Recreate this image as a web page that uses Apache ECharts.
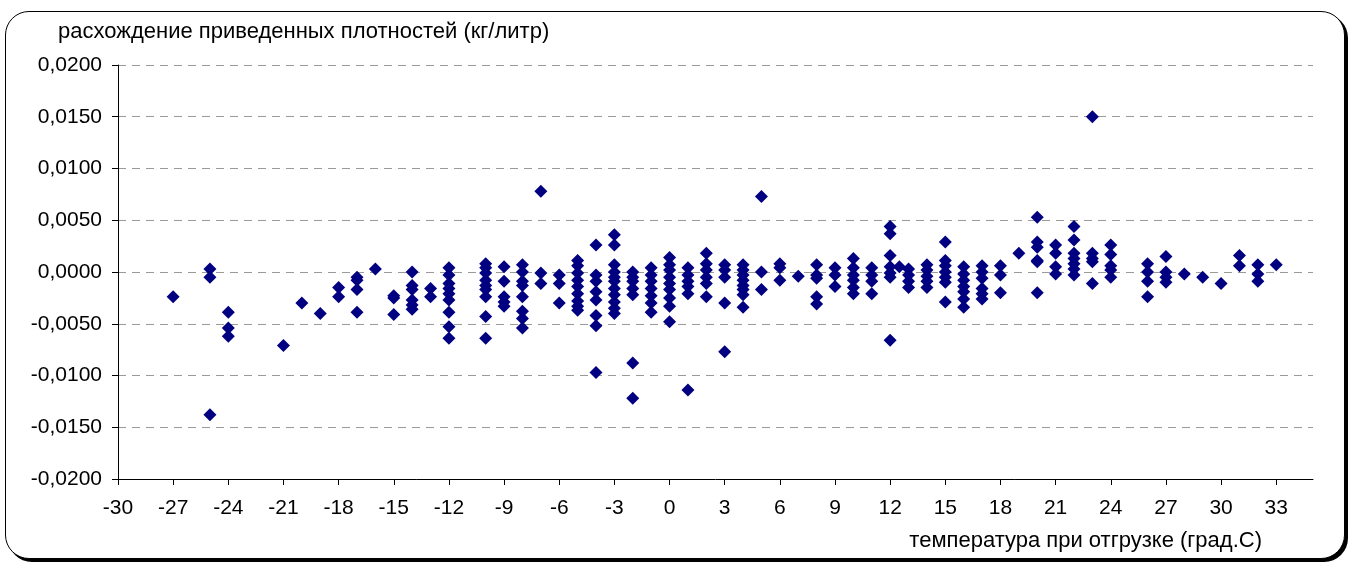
<!DOCTYPE html>
<html>
<head>
<meta charset="utf-8">
<script src="https://cdn.jsdelivr.net/npm/echarts@6/dist/echarts.min.js"></script>
<style>
  html, body { margin: 0; padding: 0; background: #ffffff; }
  #frame {
    position: absolute; left: 5px; top: 11px; width: 1338px; height: 546px;
    border: 1px solid #000; border-radius: 24px;
    box-shadow: 3px 3px 0 #000; background: #fff;
  }
  #chart { position: absolute; left: 0; top: 0; width: 1351px; height: 563px; }
</style>
</head>
<body>
<div id="frame"></div>
<div id="chart"></div>
<script>
// Temperature at shipment (°C) and discrepancy of reduced densities (kg/l), paired by index
const temps = [
  -27,
  -25, -25, -25,
  -24, -24, -24,
  -21, -20, -19,
  -18, -18,
  -17, -17, -17, -17,
  -16,
  -15, -15, -15,
  -14, -14, -14, -14, -14, -14,
  -13, -13,
  -12, -12, -12, -12, -12, -12, -12, -12, -12,
  -10, -10, -10, -10, -10, -10, -10, -10, -10,
  -9, -9, -9, -9, -9,
  -8, -8, -8, -8, -8, -8, -8, -8,
  -7, -7, -7,
  -6, -6, -6,
  -5, -5, -5, -5, -5, -5, -5, -5, -5,
  -4, -4, -4, -4, -4, -4, -4, -4,
  -3, -3, -3, -3, -3, -3, -3, -3, -3, -3, -3,
  -2, -2, -2, -2, -2, -2, -2,
  -1, -1, -1, -1, -1, -1, -1,
  0, 0, 0, 0, 0, 0, 0, 0, 0,
  1, 1, 1, 1, 1, 1,
  2, 2, 2, 2, 2, 2,
  3, 3, 3, 3, 3,
  4, 4, 4, 4, 4, 4, 4, 4,
  5, 5, 5,
  6, 6, 6,
  7,
  8, 8, 8, 8, 8,
  9, 9, 9,
  10, 10, 10, 10, 10, 10,
  11, 11, 11, 11,
  12, 12, 12, 12, 12, 12, 12,
  12.5,
  13, 13, 13, 13,
  14, 14, 14, 14, 14,
  15, 15, 15, 15, 15, 15, 15,
  16, 16, 16, 16, 16, 16, 16,
  17, 17, 17, 17, 17, 17,
  18, 18, 18,
  19,
  20, 20, 20, 20, 20, 20,
  21, 21, 21, 21,
  22, 22, 22, 22, 22, 22, 22,
  23, 23, 23, 23, 23,
  24, 24, 24, 24, 24,
  26, 26, 26, 26,
  27, 27, 27, 27,
  28, 29, 30,
  31, 31,
  32, 32, 32,
  33
];
const diffs = [
  -0.0024,
  0.0003, -0.0005, -0.0138,
  -0.0039, -0.0054, -0.0062,
  -0.0071, -0.0030, -0.0040,
  -0.0015, -0.0024,
  -0.0005, -0.0008, -0.0017, -0.0039,
  0.0003,
  -0.0023, -0.0025, -0.0041,
  0.0000, -0.0013, -0.0017, -0.0027, -0.0032, -0.0036,
  -0.0016, -0.0024,
  0.0004, -0.0003, -0.0011, -0.0016, -0.0021, -0.0027, -0.0039, -0.0053, -0.0064,
  0.0008, 0.0004, -0.0001, -0.0008, -0.0013, -0.0017, -0.0024, -0.0043, -0.0064,
  0.0005, -0.0009, -0.0024, -0.0029, -0.0033,
  0.0007, 0.0000, -0.0009, -0.0013, -0.0024, -0.0038, -0.0045, -0.0054,
  0.0078, -0.0001, -0.0011,
  -0.0003, -0.0011, -0.0030,
  0.0011, 0.0006, -0.0001, -0.0008, -0.0014, -0.0021, -0.0028, -0.0033, -0.0037,
  0.0026, -0.0003, -0.0009, -0.0019, -0.0027, -0.0042, -0.0052, -0.0097,
  0.0036, 0.0026, 0.0007, 0.0000, -0.0005, -0.0009, -0.0016, -0.0022, -0.0029, -0.0035, -0.0040,
  0.0000, -0.0005, -0.0009, -0.0016, -0.0022, -0.0088, -0.0122,
  0.0004, -0.0003, -0.0009, -0.0016, -0.0023, -0.0030, -0.0039,
  0.0014, 0.0007, 0.0002, -0.0005, -0.0011, -0.0017, -0.0025, -0.0033, -0.0048,
  0.0004, -0.0003, -0.0009, -0.0014, -0.0021, -0.0114,
  0.0018, 0.0008, 0.0002, -0.0005, -0.0011, -0.0024,
  0.0007, 0.0002, -0.0005, -0.0030, -0.0077,
  0.0007, 0.0002, -0.0003, -0.0008, -0.0013, -0.0017, -0.0022, -0.0034,
  0.0073, 0.0000, -0.0017,
  0.0008, 0.0004, -0.0008,
  -0.0004,
  0.0007, -0.0003, -0.0006, -0.0024, -0.0031,
  0.0004, -0.0003, -0.0014,
  0.0013, 0.0004, -0.0003, -0.0008, -0.0015, -0.0021,
  0.0004, -0.0003, -0.0009, -0.0021,
  0.0044, 0.0037, 0.0016, 0.0005, -0.0001, -0.0005, -0.0066,
  0.0005,
  0.0003, -0.0003, -0.0009, -0.0015,
  0.0007, 0.0002, -0.0004, -0.0009, -0.0015,
  0.0029, 0.0011, 0.0006, 0.0000, -0.0005, -0.0010, -0.0029,
  0.0005, -0.0002, -0.0008, -0.0014, -0.0019, -0.0026, -0.0034,
  0.0006, 0.0000, -0.0006, -0.0016, -0.0021, -0.0026,
  0.0006, -0.0003, -0.0020,
  0.0018,
  0.0053, 0.0029, 0.0024, 0.0011, 0.0010, -0.0020,
  0.0026, 0.0018, 0.0005, -0.0002,
  0.0044, 0.0031, 0.0018, 0.0013, 0.0008, 0.0003, -0.0003,
  0.0150, 0.0018, 0.0013, 0.0010, -0.0011,
  0.0026, 0.0017, 0.0006, 0.0002, -0.0005,
  0.0008, 0.0000, -0.0009, -0.0024,
  0.0015, 0.0000, -0.0005, -0.0010,
  -0.0002, -0.0005, -0.0011,
  0.0016, 0.0006,
  0.0007, -0.0002, -0.0009,
  0.0007
];
const xTicks = [-30, -27, -24, -21, -18, -15, -12, -9, -6, -3, 0, 3, 6, 9, 12, 15, 18, 21, 24, 27, 30, 33];
const yTitle = 'расхождение приведенных плотностей (кг/литр)';
const xTitle = 'температура при отгрузке (град.С)';

const points = temps.map((t, i) => [t, diffs[i]]);
const FONT = '"Liberation Sans", Arial, sans-serif';

const chart = echarts.init(document.getElementById('chart'), null, { renderer: 'canvas' });
chart.setOption({
  backgroundColor: 'transparent',
  animation: false,
  grid: { left: 118, right: 38, top: 65, bottom: 84, containLabel: false },
  xAxis: {
    type: 'value', min: -30, max: 35, interval: 3,
    axisLine: { show: true, onZero: false, lineStyle: { color: '#000', width: 1 } },
    axisTick: { show: true, length: 6, lineStyle: { color: '#000' }, customValues: xTicks },
    axisLabel: { color: '#000', fontSize: 21, fontFamily: FONT, margin: 19, customValues: xTicks },
    splitLine: { show: false }
  },
  yAxis: {
    type: 'value', min: -0.02, max: 0.02, interval: 0.005,
    axisLine: { show: true, onZero: false, lineStyle: { color: '#000', width: 1 } },
    axisTick: { show: true, length: 6, lineStyle: { color: '#000' } },
    axisLabel: {
      color: '#000', fontSize: 21, fontFamily: FONT, margin: 16,
      formatter: v => v.toFixed(4).replace('.', ',').replace(/^-0,0000$/, '0,0000')
    },
    splitLine: { show: true, lineStyle: { color: '#9a9a9a', type: [8, 6], width: 1 } }
  },
  graphic: [
    { type: 'text', left: 58, top: 21, style: { text: yTitle, fill: '#000', font: '22px ' + FONT } },
    { type: 'text', right: 89, top: 530, style: { text: xTitle, fill: '#000', font: '22px ' + FONT } }
  ],
  series: [{
    type: 'scatter',
    data: points,
    symbol: 'diamond',
    symbolSize: 13,
    itemStyle: { color: '#000080', opacity: 1 }
  }]
});
</script>
</body>
</html>
